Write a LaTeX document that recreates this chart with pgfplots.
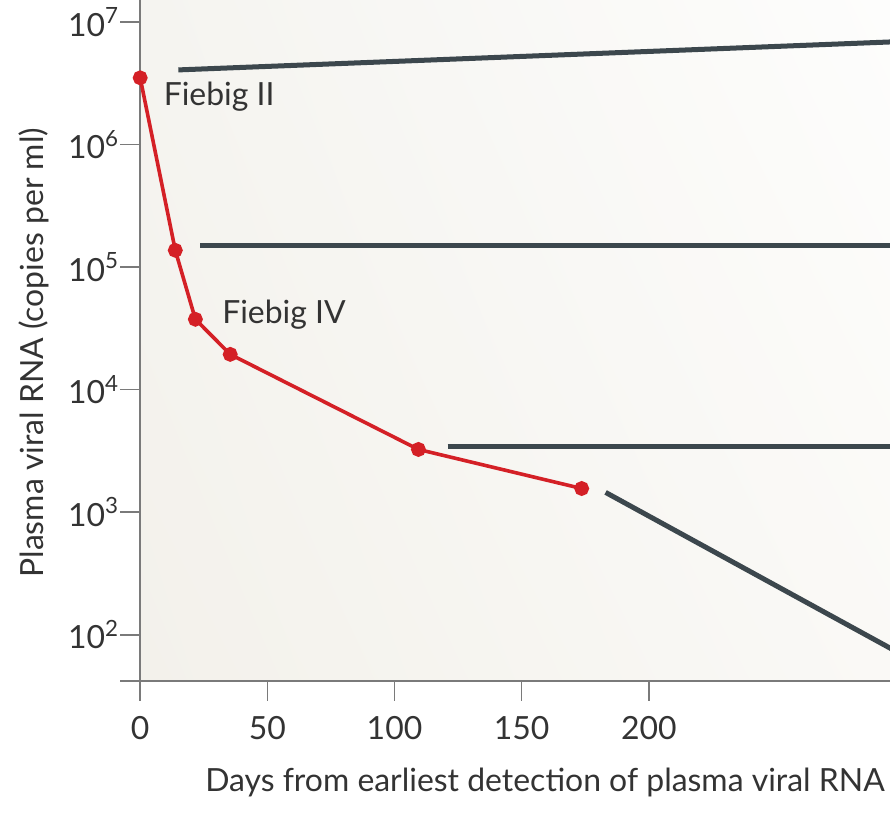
\documentclass[border=0pt]{standalone}
\usepackage{fontspec}
\setmainfont{Lato}
\usepackage{pgfplots}
\pgfplotsset{compat=1.18}
\usetikzlibrary{shadings}
\definecolor{redline}{HTML}{D42026}
\definecolor{slate}{HTML}{3C474D}
\definecolor{axgray}{HTML}{7A7A7A}
\definecolor{bgUL}{RGB}{245,244,240}
\definecolor{bgUR}{RGB}{253,253,252}
\definecolor{bgLL}{RGB}{243,241,235}
\definecolor{bgLR}{RGB}{250,249,246}
\begin{document}
\begin{tikzpicture}
\begin{axis}[
  name=ax,
  scale only axis,
  width=375bp, height=340bp,
  ymode=log, log basis y=10,
  xmin=0, xmax=295.3,
  ymin=42, ymax=1.51e7,
  axis lines*=left,
  axis line style={axgray, line width=0.8bp},
  x axis line style={shorten <=-10bp},
  tick style={axgray, line width=0.8bp},
  tick align=outside,
  major tick length=10bp,
  minor tick num=0,
  ytick={1e2,1e3,1e4,1e5,1e6,1e7},
  yticklabels={10\textsuperscript{2},10\textsuperscript{3},10\textsuperscript{4},10\textsuperscript{5},10\textsuperscript{6},10\textsuperscript{7}},
  xtick={0,50,100,150,200},
  /pgf/number format/assume math mode=true,
  tick label style={font=\fontsize{16}{18}\selectfont, text=black!80},
  xticklabel style={yshift=-4bp},
  yticklabel style={xshift=3bp},
  xlabel={Days from earliest detection of plasma viral RNA},
  ylabel={Plasma viral RNA (copies per ml)},
  label style={font=\fontsize{16}{18}\selectfont, text=black!80},
  xlabel style={at={(axis description cs:0.539,0)}, anchor=base, yshift=-55bp},
  ylabel style={at={(axis description cs:-0.1293,0.482)}, anchor=base},
  axis background/.style={shading=bilinear interpolation, upper left=bgUL, upper right=bgUR, lower left=bgLL, lower right=bgLR},
  clip=false,
]
% late-phase lines (schematic)
\addplot[slate, line width=2.5bp, no marks] coordinates {(15,4.06e6) (295.3,6.87e6)};
\addplot[slate, line width=2.5bp, no marks] coordinates {(23.6,1.51e5) (295.3,1.51e5)};
\addplot[slate, line width=2.5bp, no marks] coordinates {(120.9,3.44e3) (295.3,3.44e3)};
\addplot[slate, line width=2.5bp, no marks] coordinates {(183,1.45e3) (295.3,76.9)};
% plasma viral RNA
\addplot[redline, line width=1.8bp, mark=*, mark size=2.8bp, mark options={fill=redline, draw=redline}] coordinates {
  (0,3.5e6) (13.8,1.37e5) (21.7,3.75e4) (35.4,1.94e4) (109.4,3.25e3) (173.6,1.56e3)};
\node[anchor=west, font=\fontsize{16}{18}\selectfont, text=black!80] at (axis cs:6.5,2.45e6) {Fiebig II};
\node[anchor=west, font=\fontsize{16}{18}\selectfont, text=black!80] at (axis cs:29.5,4.1e4) {Fiebig IV};
\end{axis}
\pgfresetboundingbox
\useasboundingbox ([xshift=-70bp,yshift=-65.5bp]ax.south west) rectangle ([xshift=-0.6bp]ax.north east);
\end{tikzpicture}
\end{document}
